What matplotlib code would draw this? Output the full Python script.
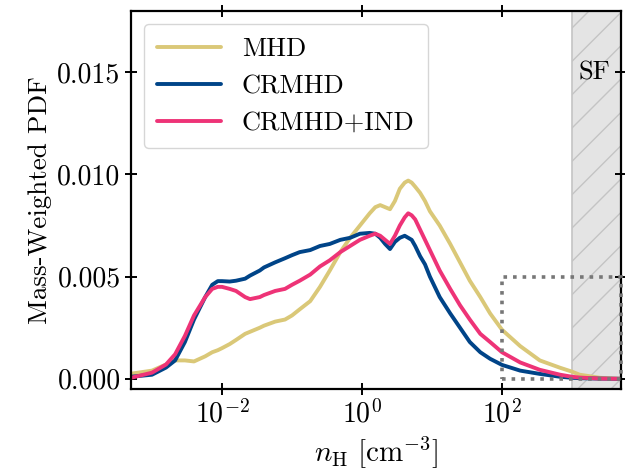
import numpy as np
import matplotlib
matplotlib.use("Agg")
import matplotlib.pyplot as plt
from matplotlib.patches import Rectangle
from matplotlib.ticker import NullLocator

plt.rcParams["font.family"] = ["cmr10", "DejaVu Serif"]
plt.rcParams["mathtext.fontset"] = "cm"
plt.rcParams["axes.formatter.use_mathtext"] = True
plt.rcParams["hatch.color"] = "#bdbdbd"
plt.rcParams["font.size"] = 19

# log10 of n_H [cm^-3]
log_n = [-3.3, -3.0, -2.8, -2.67, -2.53, -2.4, -2.24, -2.14, -2.06, -2.0,
         -1.89, -1.8, -1.67, -1.6, -1.46, -1.4, -1.24, -1.1, -1.0, -0.89,
         -0.74, -0.6, -0.46, -0.31, -0.17, -0.03, 0.11, 0.19, 0.26, 0.33,
         0.40, 0.47, 0.54, 0.61, 0.66, 0.71, 0.76, 0.83, 0.90, 0.97,
         1.11, 1.26, 1.40, 1.54, 1.69, 1.83, 2.0, 2.26, 2.54, 2.83,
         3.0, 3.11, 3.4, 3.7]

pdf_mhd = [0.00025, 0.0004, 0.0007, 0.0009, 0.0009, 0.00085, 0.0011, 0.0013, 0.0014, 0.0015,
           0.0017, 0.0019, 0.0022, 0.0023, 0.0025, 0.0026, 0.0028, 0.0029, 0.0031, 0.0034,
           0.0038, 0.0045, 0.0053, 0.0062, 0.0069, 0.0075, 0.0081, 0.0084, 0.0085, 0.0084,
           0.0083, 0.0087, 0.0093, 0.0096, 0.0097, 0.0096, 0.0094, 0.0091, 0.0087, 0.0082,
           0.0075, 0.0066, 0.0057, 0.0048, 0.0040, 0.0032, 0.0024, 0.0016, 0.0009, 0.00054,
           0.00035, 0.0002, 0.00005, 0.0]

pdf_crmhd = [0.0001, 0.0002, 0.00055, 0.0009, 0.0018, 0.0029, 0.0040, 0.0046, 0.00478, 0.00478,
             0.00476, 0.0048, 0.0049, 0.00505, 0.0053, 0.00545, 0.0057, 0.0059, 0.00605, 0.0062,
             0.0063, 0.0065, 0.0066, 0.0068, 0.0069, 0.0071, 0.00714, 0.0071, 0.0069, 0.0066,
             0.00635, 0.0067, 0.0069, 0.0070, 0.0069, 0.0068, 0.0065, 0.0060, 0.0056, 0.0050,
             0.0040, 0.0032, 0.0025, 0.0018, 0.0013, 0.00098, 0.00068, 0.0004, 0.00024, 0.0001,
             0.00005, 0.00003, 0.00001, 0.0]

pdf_crmhd_ind = [0.00005, 0.0003, 0.0007, 0.0012, 0.0021, 0.0031, 0.0040, 0.0044, 0.0045, 0.0045,
                 0.0044, 0.0043, 0.0040, 0.0039, 0.0040, 0.0041, 0.0043, 0.0044, 0.0046, 0.0048,
                 0.0051, 0.0055, 0.0058, 0.0062, 0.0065, 0.0068, 0.0070, 0.0071, 0.0070, 0.0068,
                 0.0066, 0.0070, 0.0075, 0.0079, 0.0081, 0.0080, 0.0078, 0.0073, 0.0068, 0.0063,
                 0.0053, 0.0044, 0.0036, 0.0029, 0.0022, 0.0018, 0.0013, 0.0008, 0.00044, 0.0002,
                 0.0001, 0.00006, 0.00001, 0.0]

labels = ["MHD", "CRMHD", "CRMHD+IND"]
colors = ["#DAC878", "#004488", "#EE3377"]

x_min, x_max = 10 ** -3.3, 10 ** 3.7
sf_threshold = 1e3

n_h = 10 ** np.array(log_n)

fig = plt.figure(figsize=(6.25, 4.7), dpi=100)
ax = fig.add_axes([0.2096, 0.1723, 0.784, 0.8043])

for series, label, color in zip([pdf_mhd, pdf_crmhd, pdf_crmhd_ind], labels, colors):
    ax.plot(n_h, series, color=color, lw=2.8, label=label,
            solid_capstyle="round", solid_joinstyle="round")

ax.axvspan(sf_threshold, x_max, facecolor="#e4e4e4", edgecolor="#c4c4c4",
           hatch="/", lw=1.2, zorder=0)
ax.text(0.945, 0.838, "SF", transform=ax.transAxes, ha="center", va="center", fontsize=19)

box = Rectangle((1e2, 0.0), x_max - 1e2, 0.005, fill=False, ls=":", lw=2.6,
                edgecolor="#777777", zorder=5, clip_on=False)
ax.add_patch(box)

ax.set_xscale("log")
ax.set_xlim(x_min, x_max)
ax.set_ylim(-0.0005, 0.018)
ax.set_xticks([1e-2, 1e0, 1e2])
ax.xaxis.set_minor_locator(NullLocator())
ax.set_yticks([0.0, 0.005, 0.010, 0.015])
ax.set_yticklabels(["0.000", "0.005", "0.010", "0.015"])
ax.tick_params(which="both", direction="inout", top=True, right=True,
               length=8, width=1.4, labelsize=20)
for spine in ax.spines.values():
    spine.set_linewidth(1.6)

ax.set_xlabel(r"$n_{\rm H}\ [{\rm cm}^{-3}]$", fontsize=21, labelpad=4)
ax.set_ylabel("Mass-Weighted PDF", fontsize=19.5)

ax.legend(loc="upper left", fontsize=19, handlelength=2.4, framealpha=0.8,
          borderpad=0.5, labelspacing=0.5)

fig.savefig("out.png", dpi=100)
